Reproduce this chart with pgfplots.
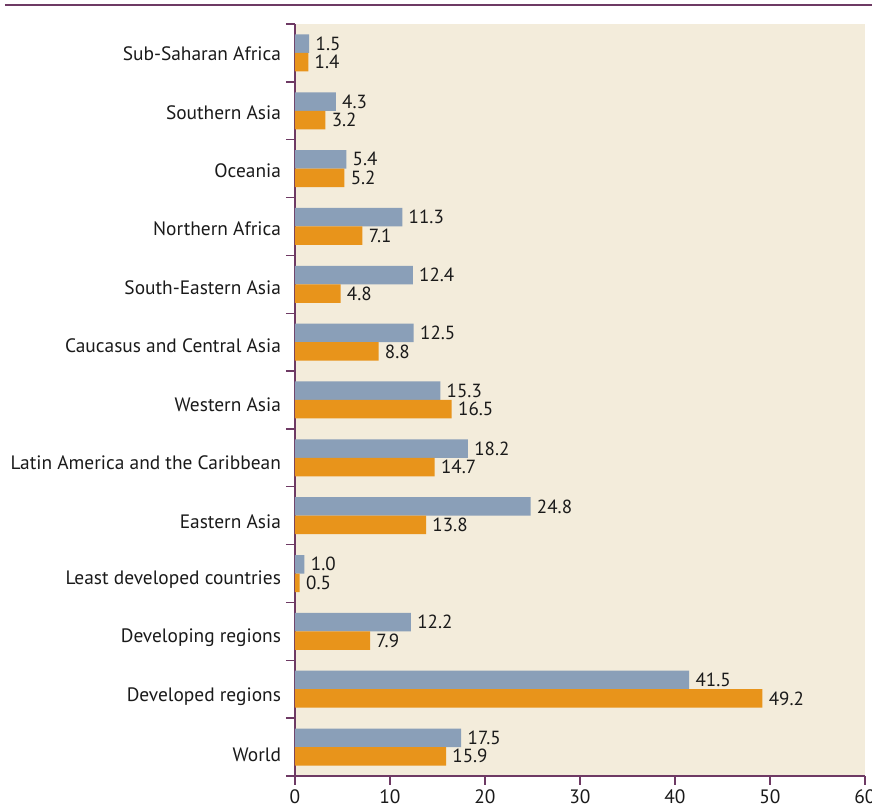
\documentclass[border=0pt]{standalone}
\usepackage{pgfplots}
\pgfplotsset{compat=1.18}
\usepackage{fontspec}
\setmainfont{PT Sans}
\definecolor{barblue}{HTML}{8A9FB8}
\definecolor{barorange}{HTML}{E8941B}
\definecolor{bgbeige}{HTML}{F3ECDB}
\definecolor{axpurple}{HTML}{6E3A64}
\definecolor{txt}{HTML}{1A1A1A}
\begin{document}
\begin{tikzpicture}
\begin{axis}[
  at={(0,0)}, anchor=south west,
  scale only axis, width=285pt, height=376pt,
  xbar, bar width=9.25pt,
  xmin=0, xmax=60, ymin=-0.5, ymax=12.5,
  axis x line*=bottom, axis y line*=left,
  axis line style={axpurple, line width=0.8pt, -},
  axis background/.style={fill=bgbeige},
  tick align=outside,
  major tick length=4.5pt,
  tick style={axpurple, line width=0.7pt},
  xtick={0,10,...,60},
  xticklabel style={yshift=1pt},
  ytick={-0.5,0.5,...,12.5},
  yticklabels={},
  extra y ticks={-0.12,0.89,1.90,2.91,3.92,4.93,5.94,6.95,7.96,8.97,9.98,10.99,12.00},
  extra y tick labels={World,Developed regions,Developing regions,Least developed countries,Eastern Asia,Latin America and the Caribbean,Western Asia,Caucasus and Central Asia,South-Eastern Asia,Northern Africa,Oceania,Southern Asia,Sub-Saharan Africa},
  extra y tick style={major tick length=0pt, tick style={draw=none}, yticklabel style={xshift=-3.5pt, yshift=-0.5pt}},
  ticklabel style={font=\fontsize{9.7}{11}\selectfont, text=txt},
  /pgf/number format/assume math mode=true,
  nodes near coords,
  nodes near coords style={font=\fontsize{9.5}{11}\selectfont, text=txt, inner sep=3pt,
    /pgf/number format/.cd, fixed, fixed zerofill, precision=1},
  clip=false,
]
\addplot[fill=barblue, draw=none, bar shift=4.625pt] coordinates {
(17.5,0) (41.5,1) (12.2,2) (1.0,3) (24.8,4) (18.2,5) (15.3,6) (12.5,7) (12.4,8) (11.3,9) (5.4,10) (4.3,11) (1.5,12)};
\addplot[fill=barorange, draw=none, bar shift=-4.625pt] coordinates {
(15.9,0) (49.2,1) (7.9,2) (0.5,3) (13.8,4) (14.7,5) (16.5,6) (8.8,7) (4.8,8) (7.1,9) (5.2,10) (3.2,11) (1.4,12)};
\end{axis}
\draw[axpurple, line width=1pt] (-145pt,385.5pt) -- (290pt,385.5pt);
\pgfresetboundingbox
\useasboundingbox (-147.5pt,-15.5pt) rectangle (288.5pt,388pt);
\end{tikzpicture}
\end{document}
